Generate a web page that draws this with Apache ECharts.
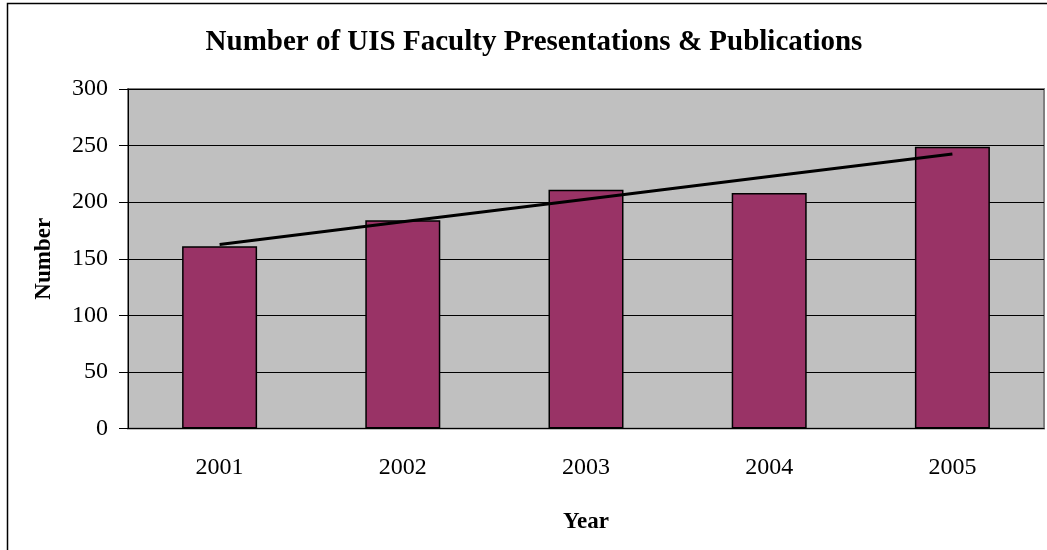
<!DOCTYPE html>
<html>
<head>
<meta charset="utf-8">
<script src="https://cdn.jsdelivr.net/npm/echarts@6/dist/echarts.min.js"></script>
<style>
  html, body { margin: 0; padding: 0; background: #fff; }
  #chart { width: 1047px; height: 550px; }
</style>
</head>
<body>
<div id="chart"></div>
<script>
// values
const years = ['2001', '2002', '2003', '2004', '2005'];
const counts = [161, 184, 211, 208, 249];
const trend = [162.6, 182.6, 202.6, 222.6, 242.6];   // linear trendline as drawn
const yTicks = [0, 50, 100, 150, 200, 250, 300];

const serif = '"Liberation Serif", "Times New Roman", serif';

const chart = echarts.init(document.getElementById('chart'));

chart.setOption({
  animation: false,
  backgroundColor: '#fff',
  graphic: [
    {
      // outer chart frame (cropped on right and bottom)
      type: 'rect',
      shape: { x: 7.5, y: 3.5, width: 1100, height: 600 },
      style: { fill: 'none', stroke: '#000', lineWidth: 1.5 },
      silent: true
    },
    {
      type: 'text',
      x: 534,
      y: 43,
      style: {
        text: 'Number of UIS Faculty Presentations & Publications',
        font: 'bold 29px ' + serif,
        fill: '#000',
        textAlign: 'center',
        textVerticalAlign: 'middle'
      }
    }
  ],
  grid: {
    left: 128,
    top: 89,
    right: 3,
    bottom: 121.5,
    show: true,
    backgroundColor: '#C0C0C0',
    borderColor: '#808080',
    borderWidth: 2
  },
  xAxis: {
    type: 'category',
    data: years,
    name: 'Year',
    nameLocation: 'middle',
    nameGap: 82,
    nameTextStyle: { fontFamily: serif, fontWeight: 'bold', fontSize: 23, color: '#000' },
    axisLine: { lineStyle: { color: '#000', width: 1 } },
    axisTick: { alignWithLabel: false, length: 7, lineStyle: { color: '#000' } },
    axisLabel: { fontFamily: serif, fontSize: 24, color: '#000', margin: 27 },
    splitLine: { show: false }
  },
  yAxis: {
    type: 'value',
    min: yTicks[0],
    max: yTicks[yTicks.length - 1],
    interval: yTicks[1] - yTicks[0],
    name: 'Number',
    nameLocation: 'middle',
    nameGap: 72,
    nameRotate: 90,
    nameTextStyle: { fontFamily: serif, fontWeight: 'bold', fontSize: 23, color: '#000' },
    axisLine: { show: true, lineStyle: { color: '#000', width: 1 } },
    axisTick: { show: true, length: 9, lineStyle: { color: '#000' } },
    axisLabel: { fontFamily: serif, fontSize: 24, color: '#000', margin: 20, padding: [5, 0, 0, 0] },
    splitLine: { show: true, lineStyle: { color: '#000', width: 1 } }
  },
  series: [
    {
      name: 'Number',
      type: 'bar',
      data: counts,
      barWidth: 75,
      itemStyle: { color: '#993366', borderColor: '#000', borderWidth: 1.5 },
      z: 2
    },
    {
      name: 'Trend',
      type: 'line',
      data: trend,
      showSymbol: false,
      symbol: 'none',
      lineStyle: { color: '#000', width: 3 },
      z: 3
    }
  ]
});

window.addEventListener('resize', () => chart.resize());
</script>
</body>
</html>
